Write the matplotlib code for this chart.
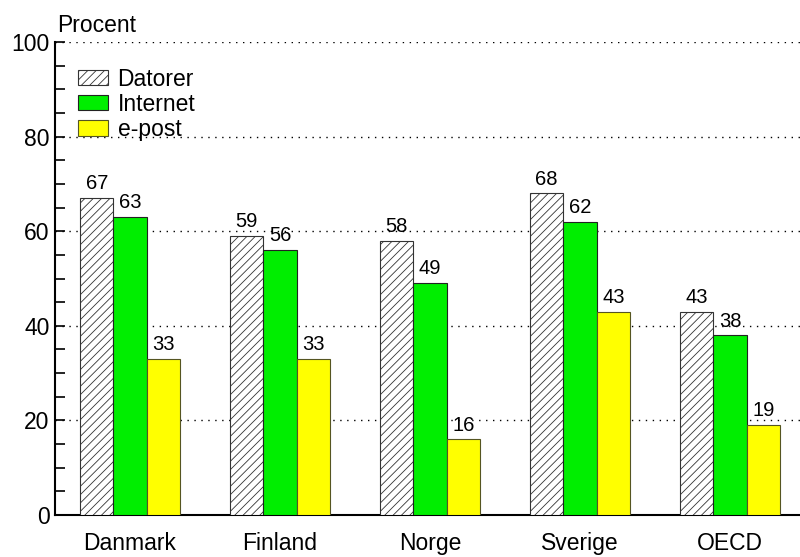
import matplotlib
matplotlib.use("Agg")
import matplotlib.pyplot as plt
import numpy as np
from matplotlib.ticker import MultipleLocator

plt.rcParams['font.family'] = ['Liberation Sans', 'DejaVu Sans']
plt.rcParams['hatch.linewidth'] = 0.6

categories = ["Danmark", "Finland", "Norge", "Sverige", "OECD"]
datorer = [67, 59, 58, 68, 43]
internet = [63, 56, 49, 62, 38]
epost = [33, 33, 16, 43, 19]
series_names = ["Datorer", "Internet", "e-post"]

fig = plt.figure(figsize=(8, 5.57), dpi=100)
ax = fig.add_axes([55/800, 1 - 515/557, 745/800, 473/557])

x = np.arange(len(categories))
w = 0.222
b1 = ax.bar(x - w, datorer, w, facecolor='white', edgecolor='#333333', hatch='////', linewidth=0.8, label=series_names[0], zorder=3)
b2 = ax.bar(x, internet, w, facecolor='#00ee00', edgecolor='#222222', linewidth=0.8, label=series_names[1], zorder=3)
b3 = ax.bar(x + w, epost, w, facecolor='#ffff00', edgecolor='#555522', linewidth=0.8, label=series_names[2], zorder=3)

for bars, vals in ((b1, datorer), (b2, internet), (b3, epost)):
    for r, v in zip(bars, vals):
        ax.text(r.get_x() + r.get_width()/2, v + 1.0, str(v), ha='center', va='bottom', fontsize=14.5, zorder=4)

ax.set_xlim(-0.5, 4.467)
ax.set_ylim(0, 100)
ax.yaxis.set_major_locator(MultipleLocator(20))
ax.yaxis.set_minor_locator(MultipleLocator(5))
ax.yaxis.grid(True, which='major', linestyle=(0, (1, 4)), color='black', linewidth=1.0, zorder=0)
ax.set_xticks(x)
ax.set_xticklabels(categories, fontsize=16.5)
ax.tick_params(axis='x', length=0, pad=12)
ax.tick_params(axis='y', which='both', direction='in', length=7, width=1.2, labelsize=16.5, pad=4)
for s in ('top', 'right'):
    ax.spines[s].set_visible(False)
ax.spines['left'].set_linewidth(1.5)
ax.spines['bottom'].set_linewidth(1.5)

ax.text(0.003, 1.01, "Procent", transform=ax.transAxes, fontsize=16.5, ha='left', va='bottom')

leg = ax.legend(loc='upper left', bbox_to_anchor=(0.031, 0.946), frameon=False, fontsize=16.5,
                handlelength=1.3, handleheight=0.65, handletextpad=0.42, labelspacing=0.1, borderaxespad=0,
                borderpad=0)

fig.savefig("out.png", dpi=100)
